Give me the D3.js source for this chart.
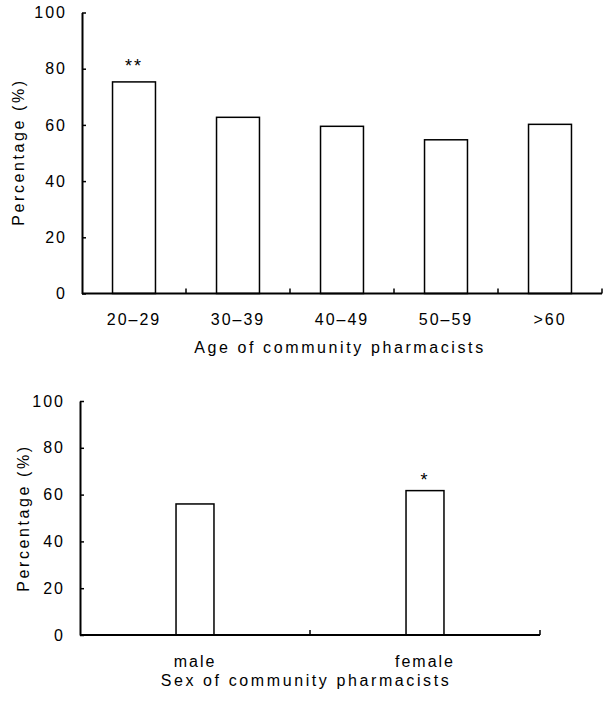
<!DOCTYPE html>
<html>
<head>
<meta charset="utf-8">
<script src="https://cdn.jsdelivr.net/npm/d3@7"></script>
<style>
  body { margin: 0; background: #fff; }
  text { font-family: "Liberation Sans", Arial, sans-serif; font-size: 16px; fill: #000; letter-spacing: 2px; }
</style>
</head>
<body>
<svg id="canvas"></svg>
<script>
// data
let ageGroups = ["20–29", "30–39", "40–49", "50–59", ">60"];
let ageValues = [75.3, 62.7, 59.5, 54.7, 60.2];
let ageMarks = ["**", "", "", "", ""];

let sexGroups = ["male", "female"];
let sexValues = [56, 61.7];
let sexMarks = ["", "*"];

let yTicks = [0, 20, 40, 60, 80, 100];

let width = 604;
let height = 701;

let canvas = d3.select("#canvas")
    .attr("width", width)
    .attr("height", height);

function drawPanel(cfg) {
    let g = canvas.append("g");

    let x = d3.scaleBand()
        .domain(cfg.cats)
        .range([cfg.left, cfg.right])
        .paddingInner(cfg.pad)
        .paddingOuter(cfg.pad / 2);

    let y = d3.scaleLinear()
        .domain([0, 100])
        .range([cfg.bottom, cfg.top]);

    // bars
    g.selectAll("rect")
        .data(cfg.values)
        .enter()
        .append("rect")
        .attr("x", (d, i) => x(cfg.cats[i]))
        .attr("y", (d) => y(d))
        .attr("width", x.bandwidth())
        .attr("height", (d) => y(0) - y(d))
        .attr("fill", "#fff")
        .attr("stroke", "#000")
        .attr("stroke-width", 1.5);

    // significance stars
    g.selectAll(".mark")
        .data(cfg.marks)
        .enter()
        .append("text")
        .attr("class", "mark")
        .attr("x", (d, i) => x(cfg.cats[i]) + x.bandwidth() / 2)
        .attr("y", (d, i) => y(cfg.values[i]) - cfg.markGap)
        .attr("text-anchor", "middle")
        .style("font-size", "18px")
        .text((d) => d);

    // y axis, ticks pointing inward
    let yAxis = d3.axisLeft(y)
        .tickValues(yTicks)
        .tickSizeInner(-4)
        .tickSizeOuter(0)
        .tickPadding(15);
    let ya = g.append("g")
        .attr("transform", "translate(" + cfg.left + ",0)")
        .call(yAxis);
    ya.select(".domain").attr("stroke-width", 2);
    ya.selectAll(".tick line").attr("stroke-width", 1.5);
    ya.selectAll(".tick text")
        .style("font-family", "'Liberation Sans', Arial, sans-serif")
        .style("font-size", "16px")
        .style("letter-spacing", "2px");

    // x baseline
    g.append("line")
        .attr("x1", cfg.left)
        .attr("x2", cfg.right)
        .attr("y1", y(0))
        .attr("y2", y(0))
        .attr("stroke", "#000")
        .attr("stroke-width", 2);

    // boundary ticks between categories
    let step = x.step();
    g.selectAll(".xtick")
        .data(cfg.cats)
        .enter()
        .append("line")
        .attr("class", "xtick")
        .attr("x1", (d, i) => cfg.left + step * (i + 1))
        .attr("x2", (d, i) => cfg.left + step * (i + 1))
        .attr("y1", y(0))
        .attr("y2", y(0) - 5)
        .attr("stroke", "#000")
        .attr("stroke-width", 1.5);

    // category labels
    g.selectAll(".xlabel")
        .data(cfg.cats)
        .enter()
        .append("text")
        .attr("class", "xlabel")
        .attr("x", (d) => x(d) + x.bandwidth() / 2)
        .attr("y", cfg.labelY)
        .attr("text-anchor", "middle")
        .text((d) => d);

    // axis titles
    g.append("text")
        .attr("x", cfg.titleX)
        .attr("y", cfg.titleY)
        .attr("text-anchor", "middle")
        .style("letter-spacing", "2.6px")
        .text(cfg.title);

    g.append("text")
        .attr("transform", "translate(" + cfg.yTitleX + "," + cfg.yTitleY + ") rotate(-90)")
        .attr("text-anchor", "middle")
        .style("letter-spacing", "2.6px")
        .text("Percentage (%)");
}

drawPanel({
    cats: ageGroups, values: ageValues, marks: ageMarks,
    left: 82, right: 602, pad: 0.587,
    top: 12.5, bottom: 293.5,
    markGap: 10, labelY: 325,
    title: "Age of community pharmacists", titleX: 340, titleY: 353,
    yTitleX: 24, yTitleY: 152
});

drawPanel({
    cats: sexGroups, values: sexValues, marks: sexMarks,
    left: 80, right: 540, pad: 0.835,
    top: 401, bottom: 635,
    markGap: 5, labelY: 667,
    title: "Sex of community pharmacists", titleX: 306, titleY: 686,
    yTitleX: 29, yTitleY: 518
});
</script>
</body>
</html>
